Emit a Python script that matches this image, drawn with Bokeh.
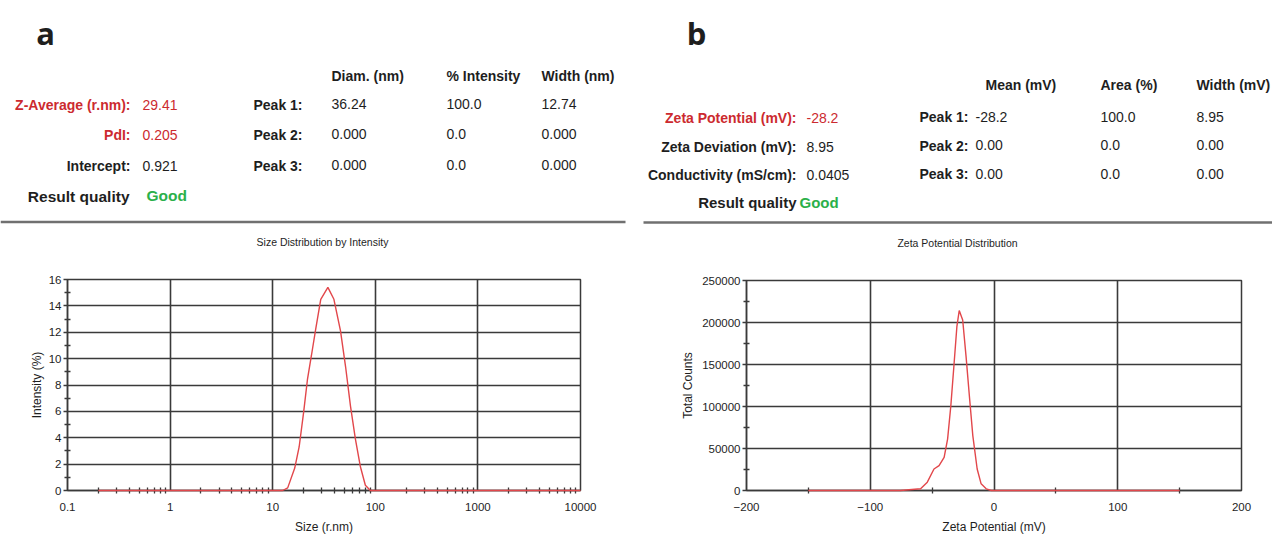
from bokeh.plotting import figure
from bokeh.models import Range1d, FixedTicker, CustomJSTickFormatter, BasicTickFormatter
from bokeh.layouts import row, column
from bokeh.core.properties import value
from bokeh.embed import file_html
from bokeh.resources import INLINE

# ---------------- data ----------------
# panel a: size distribution by intensity
size_rnm = [0.2, 12.5, 14.0, 16.4, 18.1, 20.0, 21.8, 23.8, 26.2, 29.4, 34.5, 39.5,
            45.8, 51.3, 57.3, 64.0, 71.6, 80.0, 89.5, 10000]
intensity_pct = [0, 0, 0.2, 1.7, 3.3, 5.9, 8.4, 10.2, 12.2, 14.5, 15.4, 14.5,
                 12.1, 9.4, 6.4, 3.9, 1.8, 0.4, 0, 0]
size_ticks = [0.1, 1, 10, 100, 1000, 10000]
size_minor_mult = [2, 3, 4, 5, 6, 7, 8, 9]
intensity_ticks = [0, 2, 4, 6, 8, 10, 12, 14, 16]
intensity_minor = [1, 3, 5, 7, 9, 11, 13, 15]

# panel b: zeta potential distribution
zeta_mv = [-150, -75.7, -59.3, -53.9, -48.5, -44.4, -40.3, -37.5, -34.9, -32.2, -30.0,
           -28.1, -25.3, -22.6, -19.9, -17.1, -13.6, -10.4, -6.3, -2.2, 150]
zeta_counts = [0, 0, 2000, 9900, 25600, 29600, 39500, 61200, 100600, 152000, 195000,
               214300, 203000, 160000, 112500, 65100, 25600, 7900, 2000, 0, 0]
zeta_ticks = [-200, -100, 0, 100, 200]
zeta_minor = [-150, -50, 50, 150]
count_ticks = [0, 50000, 100000, 150000, 200000, 250000]
count_minor = [25000, 75000, 125000, 175000, 225000]

# header texts
a_labels = ["Z-Average (r.nm):", "PdI:", "Intercept:"]
a_values = ["29.41", "0.205", "0.921"]
a_red_rows = [True, True, False]
a_cols = ["Diam. (nm)", "% Intensity", "Width (nm)"]
a_peaks = ["Peak 1:", "Peak 2:", "Peak 3:"]
a_peak_vals = [["36.24", "100.0", "12.74"], ["0.000", "0.0", "0.000"], ["0.000", "0.0", "0.000"]]

b_labels = ["Zeta Potential (mV):", "Zeta Deviation (mV):", "Conductivity (mS/cm):"]
b_values = ["-28.2", "8.95", "0.0405"]
b_red_rows = [True, False, False]
b_cols = ["Mean (mV)", "Area (%)", "Width (mV)"]
b_peaks = ["Peak 1:", "Peak 2:", "Peak 3:"]
b_peak_vals = [["-28.2", "100.0", "8.95"], ["0.00", "0.0", "0.00"], ["0.00", "0.0", "0.00"]]

# ---------------- style ----------------
FONT = "Liberation Sans"
RED = "#cc2a2f"
GREEN = "#2bb04a"
BLACK = "#1e1e1e"
LINE_RED = "#e2474b"
GRID = "#3a3a3a"
SEP = "#707070"

W, HH, PH = 636, 262, 274


def txt(p, x, y, t, align="left", color=BLACK, size="14px", style="normal", font=FONT,
        baseline="middle"):
    p.text(x=[x], y=[y], text=[t], text_align=align, text_baseline=baseline,
           text_color=color, text_font_size=size, text_font_style=style,
           text_font=value(font))


def header(x0):
    h = figure(width=W, height=HH, x_range=Range1d(x0, x0 + W), y_range=Range1d(HH, 0),
               toolbar_location=None, output_backend="svg", min_border=0,
               x_axis_location=None, y_axis_location=None)
    h.grid.visible = False
    h.outline_line_color = None
    h.frame_align = False
    return h


def style_axes(p):
    p.frame_align = False
    p.outline_line_color = GRID
    p.outline_line_width = 1.5
    for ax in (p.xaxis[0], p.yaxis[0]):
        ax.axis_line_color = GRID
        ax.axis_line_width = 1.5
        ax.major_tick_line_color = GRID
        ax.minor_tick_line_color = GRID
        ax.major_tick_line_width = 1.5
        ax.minor_tick_line_width = 1.3
        ax.major_label_text_font = FONT
        ax.major_label_text_font_size = "11.5px"
        ax.major_label_text_color = BLACK
        ax.axis_label_text_font = FONT
        ax.axis_label_text_font_size = "12px"
        ax.axis_label_text_font_style = "normal"
        ax.axis_label_text_color = BLACK
        ax.minor_tick_in = 3
        ax.minor_tick_out = 3
    p.xaxis.major_tick_in = 0
    p.xaxis.major_tick_out = 0
    p.xaxis.major_label_standoff = 9
    p.xaxis.axis_label_standoff = 6
    p.yaxis.major_tick_in = 0
    p.yaxis.major_tick_out = 4
    p.yaxis.major_label_standoff = 2
    p.grid.grid_line_color = GRID
    p.grid.grid_line_width = 1.6
    p.grid.minor_grid_line_color = None


# ---------------- panel a ----------------
ha = header(0)
txt(ha, 45, 32, "a", align="center", size="31px", style="bold", font="Open Sans",
    baseline="alphabetic")
row_y = [104, 134.5, 165]
for i in range(3):
    c = RED if a_red_rows[i] else BLACK
    txt(ha, 130, row_y[i], a_labels[i], align="right", color=c, style="bold")
    txt(ha, 142, row_y[i], a_values[i], color=c)
txt(ha, 129, 195.5, "Result quality", align="right", size="15.5px", style="bold")
txt(ha, 146, 195, "Good", color=GREEN, size="15.5px", style="bold")
col_x_a = [331, 446, 541]
for j in range(3):
    txt(ha, col_x_a[j], 75, a_cols[j], style="bold")
for i in range(3):
    txt(ha, 302, row_y[i], a_peaks[i], align="right", style="bold")
    for j in range(3):
        txt(ha, col_x_a[j], row_y[i] - 1, a_peak_vals[i][j])
ha.segment(x0=[0], y0=[221.5], x1=[625], y1=[221.5], line_color=SEP, line_width=2.5)
txt(ha, 322, 241.5, "Size Distribution by Intensity", align="center", size="10.5px")

pa = figure(width=W, height=PH, x_axis_type="log", x_range=Range1d(0.1, 10000),
            y_range=Range1d(0, 16), toolbar_location=None, output_backend="svg",
            min_border_left=67, min_border_right=56, min_border_top=17, min_border_bottom=44,
            x_axis_label="Size (r.nm)", y_axis_label="Intensity (%)")
size_minor = [m * 10.0 ** e for e in range(-1, 4) for m in size_minor_mult]
xt = FixedTicker(ticks=size_ticks, minor_ticks=size_minor)
pa.xaxis.ticker = xt
pa.xgrid.ticker = xt
pa.xaxis.formatter = CustomJSTickFormatter(code="return String(tick)")
yt = FixedTicker(ticks=intensity_ticks, minor_ticks=intensity_minor)
pa.yaxis.ticker = yt
pa.ygrid.ticker = yt
style_axes(pa)
pa.yaxis.axis_label_standoff = 2
pa.line(size_rnm, intensity_pct, line_color=LINE_RED, line_width=1.4, level="overlay")

# ---------------- panel b ----------------
hb = header(W)
txt(hb, 696, 32, "b", align="center", size="31px", style="bold", font="Open Sans",
    baseline="alphabetic")
row_yb = [117.5, 146, 174.5]
for i in range(3):
    c = RED if b_red_rows[i] else BLACK
    txt(hb, 796, row_yb[i], b_labels[i], align="right", color=c, style="bold")
    txt(hb, 806, row_yb[i], b_values[i], color=c)
txt(hb, 796, 202, "Result quality", align="right", size="15px", style="bold")
txt(hb, 799, 202, "Good", color=GREEN, size="15px", style="bold")
col_x_b = [985, 1100, 1196]
val_x_b = [975, 1100, 1196]
for j in range(3):
    txt(hb, col_x_b[j], 84, b_cols[j], style="bold")
for i in range(3):
    txt(hb, 919, row_yb[i] - 1, b_peaks[i], style="bold")
    for j in range(3):
        txt(hb, val_x_b[j], row_yb[i] - 1.5, b_peak_vals[i][j])
hb.segment(x0=[643], y0=[222], x1=[1272], y1=[222], line_color=SEP, line_width=2.5)
txt(hb, 957, 242, "Zeta Potential Distribution", align="center", size="10.5px")

pb = figure(width=W, height=PH, x_range=Range1d(-200, 200), y_range=Range1d(0, 250000),
            toolbar_location=None, output_backend="svg",
            min_border_left=110, min_border_right=31, min_border_top=18, min_border_bottom=45,
            x_axis_label="Zeta Potential (mV)", y_axis_label="Total Counts")
xtb = FixedTicker(ticks=zeta_ticks, minor_ticks=zeta_minor)
pb.xaxis.ticker = xtb
pb.xgrid.ticker = xtb
ytb = FixedTicker(ticks=count_ticks, minor_ticks=count_minor)
pb.yaxis.ticker = ytb
pb.ygrid.ticker = ytb
pb.yaxis.formatter = BasicTickFormatter(use_scientific=False)
style_axes(pb)
pb.yaxis.axis_label_standoff = 4
pb.line(zeta_mv, zeta_counts, line_color=LINE_RED, line_width=1.4, level="overlay")

layout = row(column(ha, pa, spacing=0), column(hb, pb, spacing=0), spacing=0)
open("out.html", "w").write(file_html(layout, INLINE))
